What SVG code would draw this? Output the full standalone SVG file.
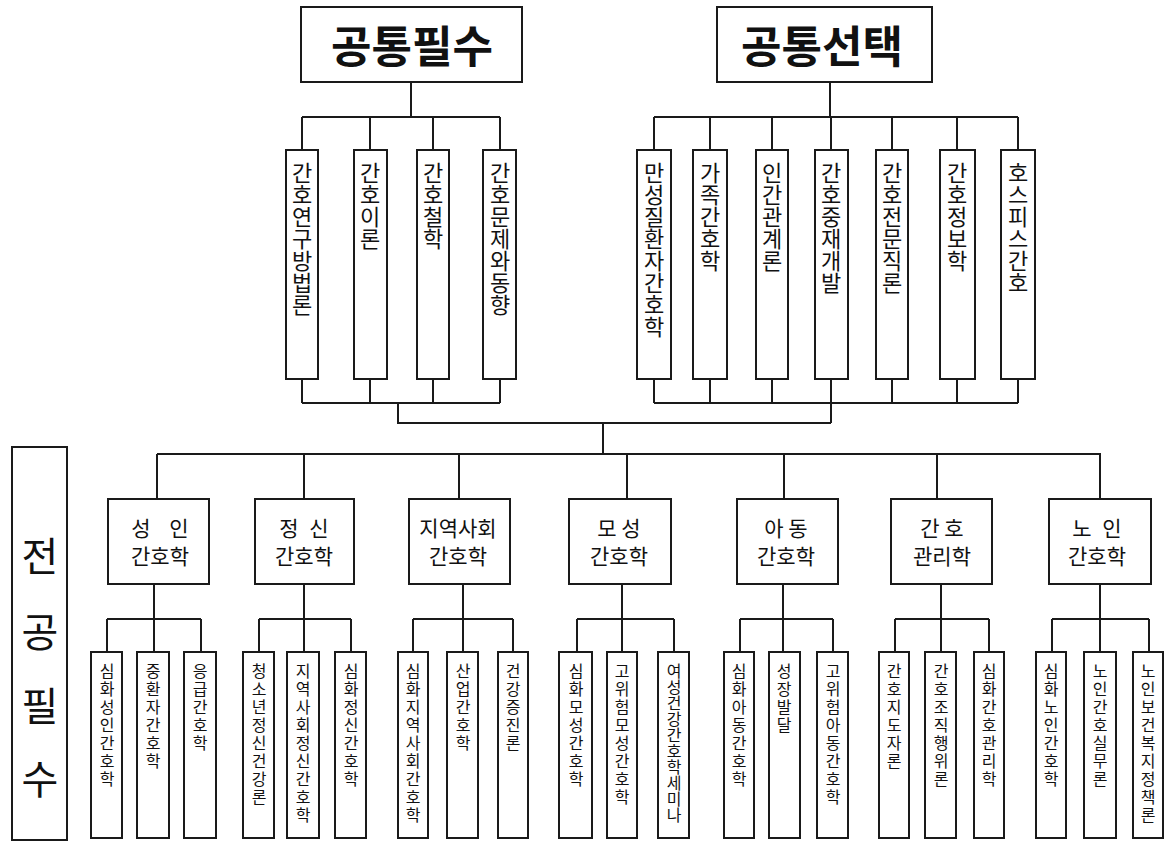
<svg xmlns="http://www.w3.org/2000/svg" width="1165" height="842" viewBox="0 0 1165 842">
<style>
.bx{fill:#fff;stroke:#1a1a1a;stroke-width:2}
.ln{fill:none;stroke:#1a1a1a;stroke-width:2}
.t{font-family:"Noto Sans CJK KR","Noto Sans",sans-serif;fill:#111}
.head{font-size:44px;font-weight:bold;text-anchor:middle;dominant-baseline:central}
.vt{font-size:22px;writing-mode:vertical-rl}
.vs{font-size:16px;letter-spacing:2px;writing-mode:vertical-rl}
.mid{font-size:21px;text-anchor:middle}
.big{font-size:40px;text-anchor:middle;dominant-baseline:central}
</style>
<rect width="1165" height="842" fill="#fff"/>
<g id="connectors" class="ln">
<path d="M411,82V117M302,117H500M302,117V150M370,117V150M433,117V150M500,117V150"/>
<path d="M302,379V403M370,379V403M433,379V403M500,379V403M302,403H500M398,403V423H831"/>
<path d="M830,82V117M654,117H1018M654,117V150M710,117V150M772,117V150M831,117V150M892,117V150M957,117V150M1018,117V150"/>
<path d="M654,379V403M710,379V403M772,379V403M831,379V403M892,379V403M957,379V403M1018,379V403M654,403H1018M831,403V423"/>
<path d="M603,423V454M157,454H1101M157,454V499M304,454V499M459,454V499M627,454V499M784,454V499M937,454V499M1100,454V499"/>
<path d="M154,584V619M107,619H201M107,619V652M154,619V652M201,619V652"/>
<path d="M304,584V619M259,619H351M259,619V652M304,619V652M351,619V652"/>
<path d="M463,584V619M413,619H513M413,619V652M463,619V652M513,619V652"/>
<path d="M622,584V619M577,619H674M577,619V652M622,619V652M674,619V652"/>
<path d="M783,584V619M740,619H833M740,619V652M783,619V652M833,619V652"/>
<path d="M941,584V619M895,619H989M895,619V652M941,619V652M989,619V652"/>
<path d="M1100,584V619M1052,619H1149M1052,619V652M1100,619V652M1149,619V652"/>
</g>
<g id="n-common-req">
<rect class="bx" x="301" y="7" width="221" height="75"/>
<text class="t head" x="412" y="44">공통필수</text>
</g>
<g id="n-common-elec">
<rect class="bx" x="717" y="7" width="215" height="75"/>
<text class="t head" x="822" y="44">공통선택</text>
</g>
<g id="n-cr1"><rect class="bx" x="286" y="150" width="32" height="229"/><text class="t vt" x="302" y="162">간호연구방법론</text></g>
<g id="n-cr2"><rect class="bx" x="354" y="150" width="33" height="229"/><text class="t vt" x="370" y="162">간호이론</text></g>
<g id="n-cr3"><rect class="bx" x="417" y="150" width="32" height="229"/><text class="t vt" x="433" y="162">간호철학</text></g>
<g id="n-cr4"><rect class="bx" x="483" y="150" width="33" height="229"/><text class="t vt" x="500" y="162">간호문제와동향</text></g>
<g id="n-ce1"><rect class="bx" x="637" y="150" width="34" height="229"/><text class="t vt" x="654" y="162">만성질환자간호학</text></g>
<g id="n-ce2"><rect class="bx" x="693" y="150" width="34" height="229"/><text class="t vt" x="710" y="162">가족간호학</text></g>
<g id="n-ce3"><rect class="bx" x="756" y="150" width="32" height="229"/><text class="t vt" x="772" y="162">인간관계론</text></g>
<g id="n-ce4"><rect class="bx" x="815" y="150" width="33" height="229"/><text class="t vt" x="831" y="162">간호중재개발</text></g>
<g id="n-ce5"><rect class="bx" x="876" y="150" width="32" height="229"/><text class="t vt" x="892" y="162">간호전문직론</text></g>
<g id="n-ce6"><rect class="bx" x="940" y="150" width="35" height="229"/><text class="t vt" x="957" y="162">간호정보학</text></g>
<g id="n-ce7"><rect class="bx" x="1001" y="150" width="34" height="229"/><text class="t vt" x="1018" y="162">호스피스간호</text></g>
<g id="n-major">
<rect class="bx" x="12" y="447" width="55" height="393"/>
<text class="t big" x="40" y="554">전</text>
<text class="t big" x="40" y="630">공</text>
<text class="t big" x="40" y="704">필</text>
<text class="t big" x="40" y="777">수</text>
</g>
<g id="n-adult"><rect class="bx" x="108" y="499" width="101" height="85"/><text class="t mid" x="160" y="536" word-spacing="14">성 인</text><text class="t mid" x="160" y="564">간호학</text></g>
<g id="n-psych"><rect class="bx" x="255" y="499" width="99" height="85"/><text class="t mid" x="304" y="536" word-spacing="6">정 신</text><text class="t mid" x="304" y="564">간호학</text></g>
<g id="n-comm"><rect class="bx" x="409" y="499" width="101" height="85"/><text class="t mid" x="458" y="536">지역사회</text><text class="t mid" x="458" y="564">간호학</text></g>
<g id="n-mat"><rect class="bx" x="569" y="499" width="102" height="85"/><text class="t mid" x="619" y="536">모 성</text><text class="t mid" x="619" y="564">간호학</text></g>
<g id="n-child"><rect class="bx" x="737" y="499" width="101" height="85"/><text class="t mid" x="786" y="536">아 동</text><text class="t mid" x="786" y="564">간호학</text></g>
<g id="n-mgmt"><rect class="bx" x="891" y="499" width="101" height="85"/><text class="t mid" x="942" y="536">간 호</text><text class="t mid" x="942" y="564">관리학</text></g>
<g id="n-ger"><rect class="bx" x="1049" y="499" width="102" height="85"/><text class="t mid" x="1097" y="536" word-spacing="6">노 인</text><text class="t mid" x="1097" y="564">간호학</text></g>
<g id="s-adult1"><rect class="bx" x="91" y="652" width="31" height="186"/><text class="t vs" x="107" y="663">심화성인간호학</text></g>
<g id="s-adult2"><rect class="bx" x="137" y="652" width="32" height="186"/><text class="t vs" x="153" y="663">중환자간호학</text></g>
<g id="s-adult3"><rect class="bx" x="184" y="652" width="32" height="186"/><text class="t vs" x="200" y="663">응급간호학</text></g>
<g id="s-psych1"><rect class="bx" x="243" y="652" width="31" height="186"/><text class="t vs" x="259" y="663">청소년정신건강론</text></g>
<g id="s-psych2"><rect class="bx" x="287" y="652" width="32" height="186"/><text class="t vs" x="303" y="663">지역사회정신간호학</text></g>
<g id="s-psych3"><rect class="bx" x="335" y="652" width="31" height="186"/><text class="t vs" x="351" y="663">심화정신간호학</text></g>
<g id="s-comm1"><rect class="bx" x="398" y="652" width="30" height="186"/><text class="t vs" x="413" y="663">심화지역사회간호학</text></g>
<g id="s-comm2"><rect class="bx" x="447" y="652" width="31" height="186"/><text class="t vs" x="463" y="663">산업간호학</text></g>
<g id="s-comm3"><rect class="bx" x="498" y="652" width="30" height="186"/><text class="t vs" x="513" y="663">건강증진론</text></g>
<g id="s-mat1"><rect class="bx" x="559" y="652" width="33" height="186"/><text class="t vs" x="576" y="663">심화모성간호학</text></g>
<g id="s-mat2"><rect class="bx" x="607" y="652" width="30" height="186"/><text class="t vs" x="622" y="663">고위험모성간호학</text></g>
<g id="s-mat3"><rect class="bx" x="658" y="652" width="31" height="186"/><text class="t vs" x="674" y="663" style="letter-spacing:0">여성건강간호학세미나</text></g>
<g id="s-child1"><rect class="bx" x="724" y="652" width="30" height="186"/><text class="t vs" x="739" y="663">심화아동간호학</text></g>
<g id="s-child2"><rect class="bx" x="769" y="652" width="31" height="186"/><text class="t vs" x="784" y="663">성장발달</text></g>
<g id="s-child3"><rect class="bx" x="817" y="652" width="31" height="186"/><text class="t vs" x="833" y="663">고위험아동간호학</text></g>
<g id="s-mgmt1"><rect class="bx" x="879" y="652" width="30" height="186"/><text class="t vs" x="894" y="663">간호지도자론</text></g>
<g id="s-mgmt2"><rect class="bx" x="925" y="652" width="31" height="186"/><text class="t vs" x="941" y="663">간호조직행위론</text></g>
<g id="s-mgmt3"><rect class="bx" x="974" y="652" width="30" height="186"/><text class="t vs" x="989" y="663">심화간호관리학</text></g>
<g id="s-ger1"><rect class="bx" x="1036" y="652" width="30" height="186"/><text class="t vs" x="1051" y="663">심화노인간호학</text></g>
<g id="s-ger2"><rect class="bx" x="1084" y="652" width="32" height="186"/><text class="t vs" x="1100" y="663">노인간호실무론</text></g>
<g id="s-ger3"><rect class="bx" x="1133" y="652" width="30" height="186"/><text class="t vs" x="1148" y="663">노인보건복지정책론</text></g>
</svg>
